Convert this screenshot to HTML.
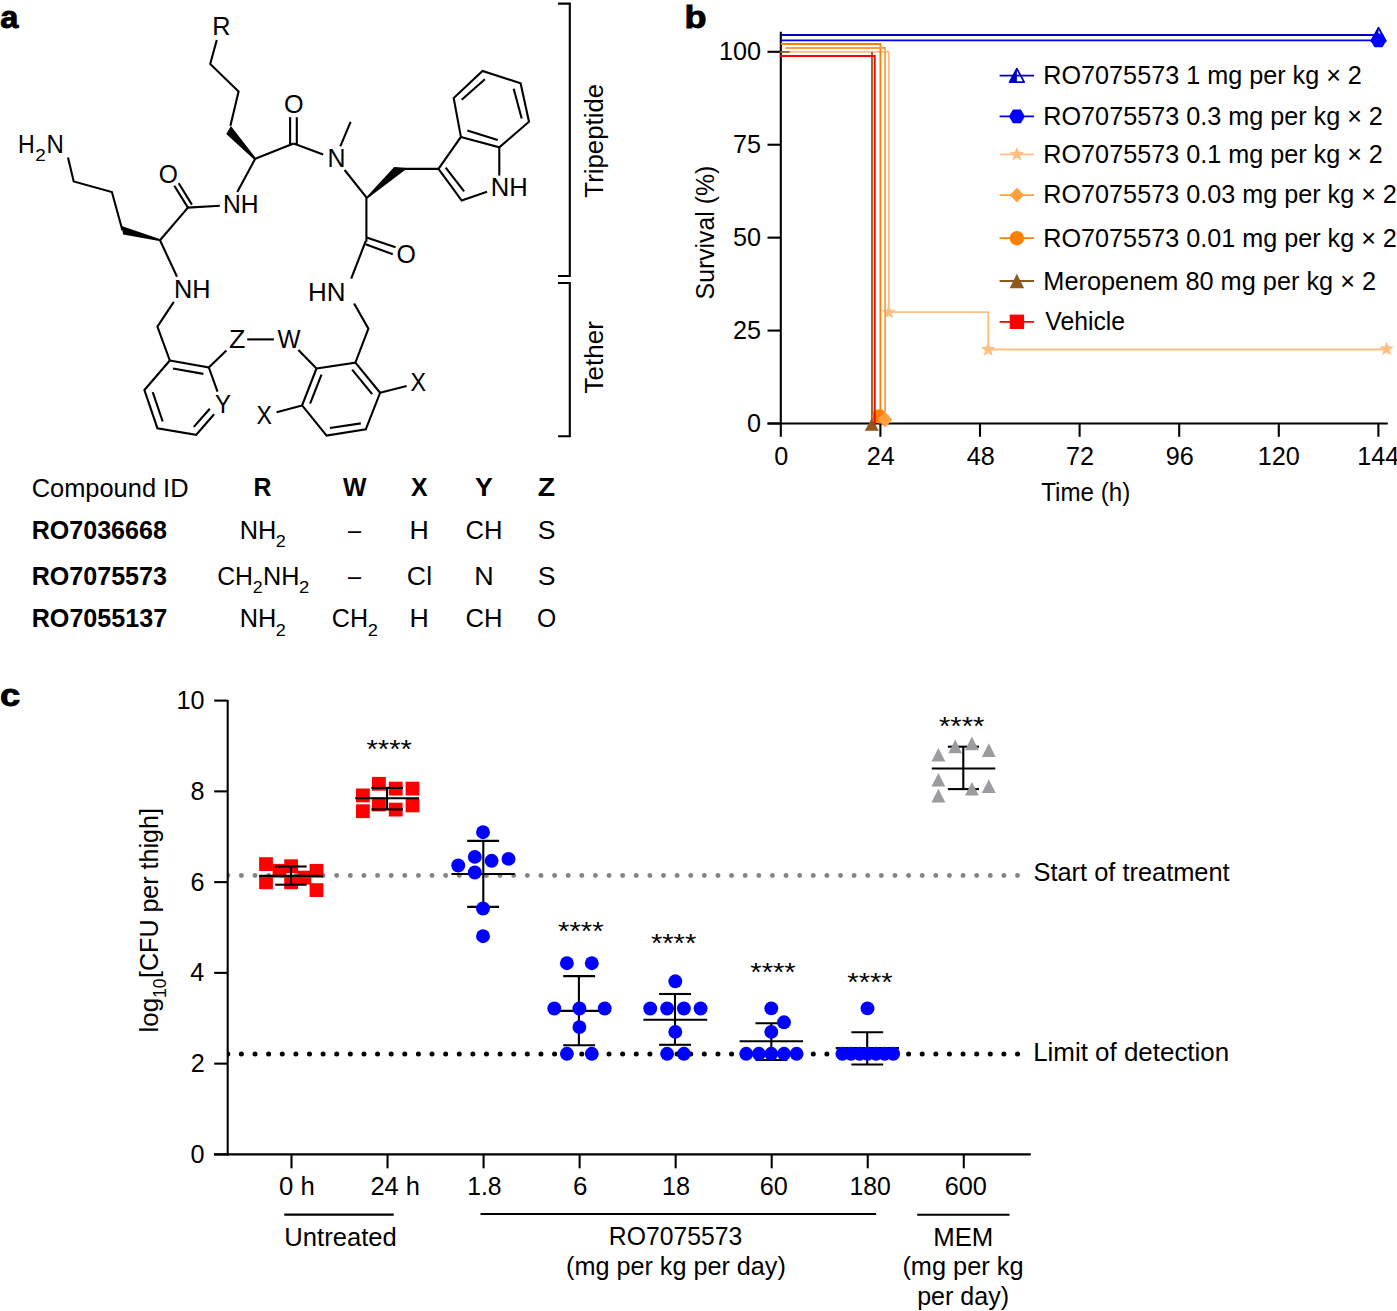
<!DOCTYPE html>
<html><head><meta charset="utf-8"><style>
html,body{margin:0;padding:0;background:#fff;}
svg{display:block;}
text{font-family:"Liberation Sans",sans-serif;}
</style></head><body>
<svg width="1397" height="1311" viewBox="0 0 1397 1311">
<rect width="1397" height="1311" fill="#fff"/>
<text transform="translate(0.32 27.6) scale(1.0344 1)" font-size="31.5" font-weight="bold" fill="#000" stroke="#000" stroke-width="0.9">a</text>
<text transform="translate(684.51 27.8) scale(1.1478 1)" font-size="31.4" font-weight="bold" fill="#000" stroke="#000" stroke-width="0.9">b</text>
<text transform="translate(-0.1 706) scale(1.1346 1)" font-size="32" font-weight="bold" fill="#000" stroke="#000" stroke-width="0.9">c</text>
<text transform="translate(212.21 35) scale(1.0046 1)" font-size="25.2" fill="#000">R</text>
<polyline points="216.8,40 210.2,64 238.6,91.6 230.4,125.8" fill="none" stroke="#000" stroke-width="2.1" stroke-linejoin="miter"/>
<polygon points="226.3,133.9 230.9,125.9 255.9,158.2 254.6,160" fill="#000"/>
<line x1="255.2" y1="158.7" x2="293.6" y2="143.6" stroke="#000" stroke-width="2.1" stroke-linecap="butt"/>
<line x1="290.1" y1="117.2" x2="290.1" y2="144.6" stroke="#000" stroke-width="2.1" stroke-linecap="butt"/>
<line x1="296.8" y1="117.2" x2="296.8" y2="144.6" stroke="#000" stroke-width="2.1" stroke-linecap="butt"/>
<text x="284" y="112.6" font-size="25.2" fill="#000">O</text>
<line x1="293.6" y1="143.6" x2="323.2" y2="154.4" stroke="#000" stroke-width="2.1" stroke-linecap="butt"/>
<text transform="translate(327.54 166.9) scale(0.9894 1)" font-size="25.2" fill="#000">N</text>
<line x1="340.3" y1="146.3" x2="350.6" y2="121.9" stroke="#000" stroke-width="2.1" stroke-linecap="butt"/>
<line x1="344.6" y1="170" x2="366.4" y2="197.4" stroke="#000" stroke-width="2.1" stroke-linecap="butt"/>
<line x1="255.2" y1="158.7" x2="237.3" y2="192.1" stroke="#000" stroke-width="2.1" stroke-linecap="butt"/>
<text transform="translate(223.07 213.1) scale(0.9766 1)" font-size="25.2" fill="#000">NH</text>
<line x1="219.8" y1="205.7" x2="187.9" y2="207.6" stroke="#000" stroke-width="2.1" stroke-linecap="butt"/>
<line x1="187.9" y1="207.6" x2="174.3" y2="185.8" stroke="#000" stroke-width="2.1" stroke-linecap="butt"/>
<line x1="191.9" y1="204.6" x2="178.7" y2="183.2" stroke="#000" stroke-width="2.1" stroke-linecap="butt"/>
<text transform="translate(158.83 182.7) scale(0.9768 1)" font-size="25.2" fill="#000">O</text>
<line x1="187.9" y1="207.6" x2="160" y2="240.2" stroke="#000" stroke-width="2.1" stroke-linecap="butt"/>
<polygon points="160.6,241.3 159.6,239 121.7,225.9 123.1,234.5" fill="#000"/>
<polyline points="122.4,230.2 111.9,192 73.7,181.5 68,157.6" fill="none" stroke="#000" stroke-width="2.1" stroke-linejoin="miter"/>
<text transform="translate(18.09 152.9) scale(0.9182 1)" font-size="25.2" fill="#000">H</text>
<text transform="translate(35.25 161.3) scale(1.1251 1)" font-size="16.8" fill="#000">2</text>
<text transform="translate(46.42 152.9) scale(0.9538 1)" font-size="25.2" fill="#000">N</text>
<line x1="160" y1="240.2" x2="177" y2="276.7" stroke="#000" stroke-width="2.1" stroke-linecap="butt"/>
<text transform="translate(174.01 297.8) scale(1.0045 1)" font-size="25.2" fill="#000">NH</text>
<polyline points="173.8,301.8 157.4,326.7 169.8,360.5" fill="none" stroke="#000" stroke-width="2.1" stroke-linejoin="miter"/>
<polyline points="169.8,360.5 208.8,367.5 217.5,391.7" fill="none" stroke="#000" stroke-width="2.1" stroke-linejoin="miter"/>
<polyline points="169.8,360.5 144.4,390.1 157.4,428.2 196.1,434.9 214.1,414.2" fill="none" stroke="#000" stroke-width="2.1" stroke-linejoin="miter"/>
<line x1="173" y1="368.5" x2="203.4" y2="373.9" stroke="#000" stroke-width="2.1" stroke-linecap="butt"/>
<line x1="152.7" y1="392.1" x2="162.7" y2="421.5" stroke="#000" stroke-width="2.1" stroke-linecap="butt"/>
<line x1="193.8" y1="426.9" x2="209.8" y2="408.8" stroke="#000" stroke-width="2.1" stroke-linecap="butt"/>
<text transform="translate(214.96 412.6) scale(0.9498 1)" font-size="25.2" fill="#000">Y</text>
<line x1="208.8" y1="367.5" x2="226.4" y2="350.4" stroke="#000" stroke-width="2.1" stroke-linecap="butt"/>
<text transform="translate(229.03 347.7) scale(1.0654 1)" font-size="25.2" fill="#000">Z</text>
<line x1="247.2" y1="339.4" x2="273.9" y2="339.4" stroke="#000" stroke-width="2.1" stroke-linecap="butt"/>
<text transform="translate(277.38 348.1) scale(0.9677 1)" font-size="25.2" fill="#000">W</text>
<line x1="298.4" y1="350" x2="316.5" y2="368.5" stroke="#000" stroke-width="2.1" stroke-linecap="butt"/>
<polyline points="316.5,368.5 355.4,362.6 380.1,392.8 365.8,429.4 326.6,435.6 302.1,405.4 316.5,368.5" fill="none" stroke="#000" stroke-width="2.1" stroke-linejoin="miter"/>
<line x1="321.5" y1="374.7" x2="310.1" y2="403.7" stroke="#000" stroke-width="2.1" stroke-linecap="butt"/>
<line x1="352.1" y1="369.7" x2="372.2" y2="394.2" stroke="#000" stroke-width="2.1" stroke-linecap="butt"/>
<line x1="329.9" y1="428" x2="360.8" y2="423.4" stroke="#000" stroke-width="2.1" stroke-linecap="butt"/>
<line x1="302.1" y1="405.4" x2="276.6" y2="412.2" stroke="#000" stroke-width="2.1" stroke-linecap="butt"/>
<text transform="translate(256.38 423.5) scale(0.9180 1)" font-size="25.2" fill="#000">X</text>
<line x1="380.1" y1="392.8" x2="406.6" y2="386.1" stroke="#000" stroke-width="2.1" stroke-linecap="butt"/>
<text transform="translate(410.58 391.1) scale(0.9243 1)" font-size="25.2" fill="#000">X</text>
<polyline points="355.4,362.6 368.4,328.7 354.1,303.5" fill="none" stroke="#000" stroke-width="2.1" stroke-linejoin="miter"/>
<text transform="translate(307.95 300.9) scale(1.0324 1)" font-size="25.2" fill="#000">HN</text>
<line x1="351.2" y1="278.7" x2="365.8" y2="240.9" stroke="#000" stroke-width="2.1" stroke-linecap="butt"/>
<line x1="366.6" y1="237.5" x2="395.6" y2="247.2" stroke="#000" stroke-width="2.1" stroke-linecap="butt"/>
<line x1="365.6" y1="244.3" x2="392.8" y2="254.2" stroke="#000" stroke-width="2.1" stroke-linecap="butt"/>
<text transform="translate(396.62 262.6) scale(0.9884 1)" font-size="25.2" fill="#000">O</text>
<line x1="366.4" y1="197.4" x2="366.4" y2="241.5" stroke="#000" stroke-width="2.1" stroke-linecap="butt"/>
<polygon points="365.6,198 394.2,166.9 405,167.8 405,170 367.4,198.4" fill="#000"/>
<line x1="404" y1="168.9" x2="438.5" y2="168.9" stroke="#000" stroke-width="2.1" stroke-linecap="butt"/>
<polyline points="438.5,168.9 460.9,136.9 453.7,98.1 482.5,70.9 520.6,83.2 529,121.7 499.3,147.3 460.9,136.9" fill="none" stroke="#000" stroke-width="2.1" stroke-linejoin="miter"/>
<polyline points="438.5,168.9 461.7,200.6 487,191.7" fill="none" stroke="#000" stroke-width="2.1" stroke-linejoin="miter"/>
<line x1="445.7" y1="167.6" x2="464.1" y2="191.3" stroke="#000" stroke-width="2.1" stroke-linecap="butt"/>
<line x1="497.7" y1="140.1" x2="467.3" y2="130.5" stroke="#000" stroke-width="2.1" stroke-linecap="butt"/>
<line x1="461.7" y1="99.7" x2="484.9" y2="79.2" stroke="#000" stroke-width="2.1" stroke-linecap="butt"/>
<line x1="513.7" y1="88.8" x2="521.7" y2="118.5" stroke="#000" stroke-width="2.1" stroke-linecap="butt"/>
<line x1="499.3" y1="147.3" x2="499.3" y2="175.6" stroke="#000" stroke-width="2.1" stroke-linecap="butt"/>
<text transform="translate(490.79 196.2) scale(1.0169 1)" font-size="25.2" fill="#000">NH</text>
<polyline points="558,3.6 569.8,3.6 569.8,276 558,276" fill="none" stroke="#000" stroke-width="2.1" stroke-linejoin="miter"/>
<polyline points="558,283 569.8,283 569.8,436.2 558,436.2" fill="none" stroke="#000" stroke-width="2.1" stroke-linejoin="miter"/>
<text transform="translate(602.8 197.68) rotate(-90) scale(1.0244 1)" font-size="25.2">Tripeptide</text>
<text transform="translate(603.2 393.39) rotate(-90) scale(1.0331 1)" font-size="25.2">Tether</text>
<text transform="translate(31.63 497) scale(1.0096 1)" font-size="25.2" fill="#000">Compound ID</text>
<text transform="translate(253.42 495.9) scale(0.9850 1)" font-size="25.2" font-weight="bold" fill="#000">R</text>
<text transform="translate(343.04 495.9) scale(0.9878 1)" font-size="25.2" font-weight="bold" fill="#000">W</text>
<text transform="translate(410.95 495.9) scale(0.9867 1)" font-size="25.2" font-weight="bold" fill="#000">X</text>
<text transform="translate(474.93 495.9) scale(1.0666 1)" font-size="25.2" font-weight="bold" fill="#000">Y</text>
<text transform="translate(537.65 495.9) scale(1.1276 1)" font-size="25.2" font-weight="bold" fill="#000">Z</text>
<text transform="translate(31.71 539.1) scale(0.9945 1)" font-size="25.2" font-weight="bold" fill="#000">RO7036668</text>
<text transform="translate(31.71 584.8) scale(0.9954 1)" font-size="25.2" font-weight="bold" fill="#000">RO7075573</text>
<text transform="translate(31.7 627) scale(0.9969 1)" font-size="25.2" font-weight="bold" fill="#000">RO7055137</text>
<text transform="translate(239.81 539.1) scale(1.0045 1)" font-size="25.2" fill="#000">NH</text>
<text transform="translate(275.8 547.3) scale(1.0727 1)" font-size="16.8" fill="#000">2</text>
<text transform="translate(348.1 539.1) scale(0.9295 1)" font-size="25.2" fill="#000">–</text>
<text transform="translate(409.6 539.1) scale(1.0606 1)" font-size="25.2" fill="#000">H</text>
<text transform="translate(465.52 539.1) scale(1.0159 1)" font-size="25.2" fill="#000">CH</text>
<text transform="translate(537.7 539.1) scale(1.0559 1)" font-size="25.2" fill="#000">S</text>
<text transform="translate(217.16 584.8) scale(0.9826 1)" font-size="25.2" fill="#000">CH</text>
<text transform="translate(252.81 593) scale(1.0597 1)" font-size="16.8" fill="#000">2</text>
<text x="263.02" y="584.8" font-size="25.2" fill="#000">NH</text>
<text transform="translate(298.88 593) scale(1.0989 1)" font-size="16.8" fill="#000">2</text>
<text transform="translate(348.1 584.8) scale(0.9295 1)" font-size="25.2" fill="#000">–</text>
<text transform="translate(406.86 584.8) scale(1.0598 1)" font-size="25.2" fill="#000">Cl</text>
<text transform="translate(474.18 584.8) scale(1.0677 1)" font-size="25.2" fill="#000">N</text>
<text transform="translate(537.7 584.8) scale(1.0559 1)" font-size="25.2" fill="#000">S</text>
<text transform="translate(239.81 627.3) scale(1.0045 1)" font-size="25.2" fill="#000">NH</text>
<text transform="translate(275.8 635.5) scale(1.0727 1)" font-size="16.8" fill="#000">2</text>
<text transform="translate(331.85 627.3) scale(0.9947 1)" font-size="25.2" fill="#000">CH</text>
<text transform="translate(367.69 635.5) scale(1.0858 1)" font-size="16.8" fill="#000">2</text>
<text transform="translate(409.6 627.3) scale(1.0606 1)" font-size="25.2" fill="#000">H</text>
<text transform="translate(465.52 627.3) scale(1.0159 1)" font-size="25.2" fill="#000">CH</text>
<text transform="translate(536.92 627.3) scale(0.9826 1)" font-size="25.2" fill="#000">O</text>
<line x1="780.8" y1="31.8" x2="780.8" y2="424.5" stroke="#000" stroke-width="2.1" stroke-linecap="butt"/>
<line x1="767.6" y1="423.5" x2="1387.8" y2="423.5" stroke="#000" stroke-width="2.1" stroke-linecap="butt"/>
<line x1="767.5" y1="51.8" x2="780.8" y2="51.8" stroke="#000" stroke-width="2.1" stroke-linecap="butt"/>
<text x="718.92" y="60.4" font-size="25.2" fill="#000">100</text>
<line x1="767.5" y1="144.73" x2="780.8" y2="144.73" stroke="#000" stroke-width="2.1" stroke-linecap="butt"/>
<text x="733.04" y="153.33" font-size="25.2" fill="#000">75</text>
<line x1="767.5" y1="237.65" x2="780.8" y2="237.65" stroke="#000" stroke-width="2.1" stroke-linecap="butt"/>
<text x="732.97" y="246.25" font-size="25.2" fill="#000">50</text>
<line x1="767.5" y1="330.57" x2="780.8" y2="330.57" stroke="#000" stroke-width="2.1" stroke-linecap="butt"/>
<text x="733.04" y="339.18" font-size="25.2" fill="#000">25</text>
<line x1="767.5" y1="423.5" x2="780.8" y2="423.5" stroke="#000" stroke-width="2.1" stroke-linecap="butt"/>
<text x="746.96" y="432.1" font-size="25.2" fill="#000">0</text>
<line x1="780.8" y1="423.5" x2="780.8" y2="436.8" stroke="#000" stroke-width="2.1" stroke-linecap="butt"/>
<text x="774.28" y="465" font-size="25.2" fill="#000">0</text>
<line x1="880.4" y1="423.5" x2="880.4" y2="436.8" stroke="#000" stroke-width="2.1" stroke-linecap="butt"/>
<text x="866.63" y="465" font-size="25.2" fill="#000">24</text>
<line x1="980" y1="423.5" x2="980" y2="436.8" stroke="#000" stroke-width="2.1" stroke-linecap="butt"/>
<text x="966.77" y="465" font-size="25.2" fill="#000">48</text>
<line x1="1079.6" y1="423.5" x2="1079.6" y2="436.8" stroke="#000" stroke-width="2.1" stroke-linecap="butt"/>
<text x="1066.08" y="465" font-size="25.2" fill="#000">72</text>
<line x1="1179.2" y1="423.5" x2="1179.2" y2="436.8" stroke="#000" stroke-width="2.1" stroke-linecap="butt"/>
<text x="1165.65" y="465" font-size="25.2" fill="#000">96</text>
<line x1="1278.8" y1="423.5" x2="1278.8" y2="436.8" stroke="#000" stroke-width="2.1" stroke-linecap="butt"/>
<text x="1257.82" y="465" font-size="25.2" fill="#000">120</text>
<line x1="1378.4" y1="423.5" x2="1378.4" y2="436.8" stroke="#000" stroke-width="2.1" stroke-linecap="butt"/>
<text x="1357.29" y="465" font-size="25.2" fill="#000">144</text>
<text transform="translate(1041.26 500.9) scale(0.9590 1)" font-size="25.2" fill="#000">Time (h)</text>
<text transform="translate(713.7 299.42) rotate(-90) scale(0.9856 1)" font-size="25.2">Survival (%)</text>
<line x1="780.8" y1="35" x2="1378.5" y2="35" stroke="#0000C0" stroke-width="1.8" stroke-linecap="butt"/>
<polygon points="1378.5,27.75 1385.75,41.25 1371.25,41.25" fill="none" stroke="#0000C0" stroke-width="1.8" stroke-linejoin="round"/>
<polygon points="1378.5,27.75 1378.5,41.25 1371.25,41.25" fill="#0000C0"/>
<line x1="780.8" y1="40.3" x2="1378.5" y2="40.3" stroke="#0000FF" stroke-width="1.8" stroke-linecap="butt"/>
<polygon points="1386.5,40.4 1382.5,47.33 1374.5,47.33 1370.5,40.4 1374.5,33.47 1382.5,33.47" fill="#0000FF"/>
<polyline points="789,51.9 888.8,51.9 888.8,312.1 988.2,312.1 988.2,349.5 1386.4,349.5" fill="none" stroke="#FFBF80" stroke-width="1.8" stroke-linejoin="miter"/>
<polygon points="888.7,304.9 890.68,309.67 895.83,310.08 891.91,313.44 893.11,318.47 888.7,315.77 884.29,318.47 885.49,313.44 881.57,310.08 886.72,309.67" fill="#FFBF80"/>
<polygon points="988.2,342.1 990.18,346.87 995.33,347.28 991.41,350.64 992.61,355.67 988.2,352.98 983.79,355.67 984.99,350.64 981.07,347.28 986.22,346.87" fill="#FFBF80"/>
<polygon points="1386.6,341.5 1388.58,346.27 1393.73,346.68 1389.81,350.04 1391.01,355.07 1386.6,352.38 1382.19,355.07 1383.39,350.04 1379.47,346.68 1384.62,346.27" fill="#FFBF80"/>
<polyline points="779.8,51.9 789.5,51.9" fill="none" stroke="#8C5A1E" stroke-width="1.8" stroke-linejoin="miter"/>
<polyline points="872,52 872,423.5" fill="none" stroke="#8C5A1E" stroke-width="1.8" stroke-linejoin="miter"/>
<polygon points="871.8,418 878.85,430.8 864.75,430.8" fill="#8C5A1E"/>
<polyline points="780.8,44 880.4,44 880.4,423.5" fill="none" stroke="#FF8000" stroke-width="1.8" stroke-linejoin="miter"/>
<circle cx="879.4" cy="416.4" r="7.2" fill="#FF8000"/>
<polyline points="785.5,48 885.1,48 885.1,423.5" fill="none" stroke="#FFA040" stroke-width="1.8" stroke-linejoin="miter"/>
<polygon points="885.1,411.8 892.4,419.7 885.1,427.6 877.8,419.7" fill="#FFA040"/>
<polyline points="779.8,56.1 874.7,56.1 874.7,424.7" fill="none" stroke="#FF0000" stroke-width="2.0" stroke-linejoin="miter"/>
<line x1="999.6" y1="75.7" x2="1034.1" y2="75.7" stroke="#0000C0" stroke-width="1.8" stroke-linecap="butt"/>
<polygon points="1016.9,68.65 1024.15,82.15 1009.65,82.15" fill="none" stroke="#0000C0" stroke-width="1.8" stroke-linejoin="round"/>
<polygon points="1016.9,68.65 1016.9,82.15 1009.65,82.15" fill="#0000C0"/>
<text x="1043.32" y="83.5" font-size="25.2" fill="#000">RO7075573 1 mg per kg × 2</text>
<line x1="999.6" y1="116.4" x2="1034.1" y2="116.4" stroke="#0000FF" stroke-width="1.8" stroke-linecap="butt"/>
<polygon points="1024.9,116.4 1020.9,123.33 1012.9,123.33 1008.9,116.4 1012.9,109.47 1020.9,109.47" fill="#0000FF"/>
<text x="1043.33" y="124.5" font-size="25.2" fill="#000">RO7075573 0.3 mg per kg × 2</text>
<line x1="999.6" y1="154.4" x2="1034.1" y2="154.4" stroke="#FFBF80" stroke-width="1.8" stroke-linecap="butt"/>
<polygon points="1016.9,146.9 1018.88,151.67 1024.03,152.08 1020.11,155.44 1021.31,160.47 1016.9,157.78 1012.49,160.47 1013.69,155.44 1009.77,152.08 1014.92,151.67" fill="#FFBF80"/>
<text x="1043.33" y="162.7" font-size="25.2" fill="#000">RO7075573 0.1 mg per kg × 2</text>
<line x1="999.6" y1="195.1" x2="1034.1" y2="195.1" stroke="#FFA040" stroke-width="1.8" stroke-linecap="butt"/>
<polygon points="1016.9,187.8 1024.2,195.1 1016.9,202.4 1009.6,195.1" fill="#FFA040"/>
<text x="1043.32" y="203" font-size="25.2" fill="#000">RO7075573 0.03 mg per kg × 2</text>
<line x1="999.6" y1="238.2" x2="1034.1" y2="238.2" stroke="#FF8000" stroke-width="1.8" stroke-linecap="butt"/>
<circle cx="1016.9" cy="238.2" r="7.2" fill="#FF8000"/>
<text x="1043.32" y="246.5" font-size="25.2" fill="#000">RO7075573 0.01 mg per kg × 2</text>
<line x1="999.6" y1="281" x2="1034.1" y2="281" stroke="#8C5A1E" stroke-width="1.8" stroke-linecap="butt"/>
<polygon points="1016.9,273.75 1024.15,288.25 1009.65,288.25" fill="#8C5A1E"/>
<text transform="translate(1043.31 289.6) scale(1.0051 1)" font-size="25.2" fill="#000">Meropenem 80 mg per kg × 2</text>
<line x1="999.6" y1="321.8" x2="1034.1" y2="321.8" stroke="#FF0000" stroke-width="1.8" stroke-linecap="butt"/>
<rect x="1009.7" y="314.6" width="14.4" height="14.4" fill="#FF0000"/>
<text transform="translate(1045.28 330.4) scale(0.9824 1)" font-size="25.2" fill="#000">Vehicle</text>
<circle cx="241.4" cy="875.5" r="2.45" fill="#848484"/>
<circle cx="255.02" cy="875.5" r="2.45" fill="#848484"/>
<circle cx="268.63" cy="875.5" r="2.45" fill="#848484"/>
<circle cx="282.25" cy="875.5" r="2.45" fill="#848484"/>
<circle cx="295.86" cy="875.5" r="2.45" fill="#848484"/>
<circle cx="309.48" cy="875.5" r="2.45" fill="#848484"/>
<circle cx="323.1" cy="875.5" r="2.45" fill="#848484"/>
<circle cx="336.71" cy="875.5" r="2.45" fill="#848484"/>
<circle cx="350.33" cy="875.5" r="2.45" fill="#848484"/>
<circle cx="363.94" cy="875.5" r="2.45" fill="#848484"/>
<circle cx="377.56" cy="875.5" r="2.45" fill="#848484"/>
<circle cx="391.18" cy="875.5" r="2.45" fill="#848484"/>
<circle cx="404.79" cy="875.5" r="2.45" fill="#848484"/>
<circle cx="418.41" cy="875.5" r="2.45" fill="#848484"/>
<circle cx="432.02" cy="875.5" r="2.45" fill="#848484"/>
<circle cx="445.64" cy="875.5" r="2.45" fill="#848484"/>
<circle cx="459.26" cy="875.5" r="2.45" fill="#848484"/>
<circle cx="472.87" cy="875.5" r="2.45" fill="#848484"/>
<circle cx="486.49" cy="875.5" r="2.45" fill="#848484"/>
<circle cx="500.1" cy="875.5" r="2.45" fill="#848484"/>
<circle cx="513.72" cy="875.5" r="2.45" fill="#848484"/>
<circle cx="527.34" cy="875.5" r="2.45" fill="#848484"/>
<circle cx="540.95" cy="875.5" r="2.45" fill="#848484"/>
<circle cx="554.57" cy="875.5" r="2.45" fill="#848484"/>
<circle cx="568.18" cy="875.5" r="2.45" fill="#848484"/>
<circle cx="581.8" cy="875.5" r="2.45" fill="#848484"/>
<circle cx="595.42" cy="875.5" r="2.45" fill="#848484"/>
<circle cx="609.03" cy="875.5" r="2.45" fill="#848484"/>
<circle cx="622.65" cy="875.5" r="2.45" fill="#848484"/>
<circle cx="636.26" cy="875.5" r="2.45" fill="#848484"/>
<circle cx="649.88" cy="875.5" r="2.45" fill="#848484"/>
<circle cx="663.5" cy="875.5" r="2.45" fill="#848484"/>
<circle cx="677.11" cy="875.5" r="2.45" fill="#848484"/>
<circle cx="690.73" cy="875.5" r="2.45" fill="#848484"/>
<circle cx="704.34" cy="875.5" r="2.45" fill="#848484"/>
<circle cx="717.96" cy="875.5" r="2.45" fill="#848484"/>
<circle cx="731.58" cy="875.5" r="2.45" fill="#848484"/>
<circle cx="745.19" cy="875.5" r="2.45" fill="#848484"/>
<circle cx="758.81" cy="875.5" r="2.45" fill="#848484"/>
<circle cx="772.42" cy="875.5" r="2.45" fill="#848484"/>
<circle cx="786.04" cy="875.5" r="2.45" fill="#848484"/>
<circle cx="799.66" cy="875.5" r="2.45" fill="#848484"/>
<circle cx="813.27" cy="875.5" r="2.45" fill="#848484"/>
<circle cx="826.89" cy="875.5" r="2.45" fill="#848484"/>
<circle cx="840.5" cy="875.5" r="2.45" fill="#848484"/>
<circle cx="854.12" cy="875.5" r="2.45" fill="#848484"/>
<circle cx="867.74" cy="875.5" r="2.45" fill="#848484"/>
<circle cx="881.35" cy="875.5" r="2.45" fill="#848484"/>
<circle cx="894.97" cy="875.5" r="2.45" fill="#848484"/>
<circle cx="908.58" cy="875.5" r="2.45" fill="#848484"/>
<circle cx="922.2" cy="875.5" r="2.45" fill="#848484"/>
<circle cx="935.82" cy="875.5" r="2.45" fill="#848484"/>
<circle cx="949.43" cy="875.5" r="2.45" fill="#848484"/>
<circle cx="963.05" cy="875.5" r="2.45" fill="#848484"/>
<circle cx="976.66" cy="875.5" r="2.45" fill="#848484"/>
<circle cx="990.28" cy="875.5" r="2.45" fill="#848484"/>
<circle cx="1003.9" cy="875.5" r="2.45" fill="#848484"/>
<circle cx="1017.51" cy="875.5" r="2.45" fill="#848484"/>
<circle cx="241.4" cy="1054" r="2.5" fill="#000000"/>
<circle cx="255.02" cy="1054" r="2.5" fill="#000000"/>
<circle cx="268.63" cy="1054" r="2.5" fill="#000000"/>
<circle cx="282.25" cy="1054" r="2.5" fill="#000000"/>
<circle cx="295.86" cy="1054" r="2.5" fill="#000000"/>
<circle cx="309.48" cy="1054" r="2.5" fill="#000000"/>
<circle cx="323.1" cy="1054" r="2.5" fill="#000000"/>
<circle cx="336.71" cy="1054" r="2.5" fill="#000000"/>
<circle cx="350.33" cy="1054" r="2.5" fill="#000000"/>
<circle cx="363.94" cy="1054" r="2.5" fill="#000000"/>
<circle cx="377.56" cy="1054" r="2.5" fill="#000000"/>
<circle cx="391.18" cy="1054" r="2.5" fill="#000000"/>
<circle cx="404.79" cy="1054" r="2.5" fill="#000000"/>
<circle cx="418.41" cy="1054" r="2.5" fill="#000000"/>
<circle cx="432.02" cy="1054" r="2.5" fill="#000000"/>
<circle cx="445.64" cy="1054" r="2.5" fill="#000000"/>
<circle cx="459.26" cy="1054" r="2.5" fill="#000000"/>
<circle cx="472.87" cy="1054" r="2.5" fill="#000000"/>
<circle cx="486.49" cy="1054" r="2.5" fill="#000000"/>
<circle cx="500.1" cy="1054" r="2.5" fill="#000000"/>
<circle cx="513.72" cy="1054" r="2.5" fill="#000000"/>
<circle cx="527.34" cy="1054" r="2.5" fill="#000000"/>
<circle cx="540.95" cy="1054" r="2.5" fill="#000000"/>
<circle cx="554.57" cy="1054" r="2.5" fill="#000000"/>
<circle cx="568.18" cy="1054" r="2.5" fill="#000000"/>
<circle cx="581.8" cy="1054" r="2.5" fill="#000000"/>
<circle cx="595.42" cy="1054" r="2.5" fill="#000000"/>
<circle cx="609.03" cy="1054" r="2.5" fill="#000000"/>
<circle cx="622.65" cy="1054" r="2.5" fill="#000000"/>
<circle cx="636.26" cy="1054" r="2.5" fill="#000000"/>
<circle cx="649.88" cy="1054" r="2.5" fill="#000000"/>
<circle cx="663.5" cy="1054" r="2.5" fill="#000000"/>
<circle cx="677.11" cy="1054" r="2.5" fill="#000000"/>
<circle cx="690.73" cy="1054" r="2.5" fill="#000000"/>
<circle cx="704.34" cy="1054" r="2.5" fill="#000000"/>
<circle cx="717.96" cy="1054" r="2.5" fill="#000000"/>
<circle cx="731.58" cy="1054" r="2.5" fill="#000000"/>
<circle cx="745.19" cy="1054" r="2.5" fill="#000000"/>
<circle cx="758.81" cy="1054" r="2.5" fill="#000000"/>
<circle cx="772.42" cy="1054" r="2.5" fill="#000000"/>
<circle cx="786.04" cy="1054" r="2.5" fill="#000000"/>
<circle cx="799.66" cy="1054" r="2.5" fill="#000000"/>
<circle cx="813.27" cy="1054" r="2.5" fill="#000000"/>
<circle cx="826.89" cy="1054" r="2.5" fill="#000000"/>
<circle cx="840.5" cy="1054" r="2.5" fill="#000000"/>
<circle cx="854.12" cy="1054" r="2.5" fill="#000000"/>
<circle cx="867.74" cy="1054" r="2.5" fill="#000000"/>
<circle cx="881.35" cy="1054" r="2.5" fill="#000000"/>
<circle cx="894.97" cy="1054" r="2.5" fill="#000000"/>
<circle cx="908.58" cy="1054" r="2.5" fill="#000000"/>
<circle cx="922.2" cy="1054" r="2.5" fill="#000000"/>
<circle cx="935.82" cy="1054" r="2.5" fill="#000000"/>
<circle cx="949.43" cy="1054" r="2.5" fill="#000000"/>
<circle cx="963.05" cy="1054" r="2.5" fill="#000000"/>
<circle cx="976.66" cy="1054" r="2.5" fill="#000000"/>
<circle cx="990.28" cy="1054" r="2.5" fill="#000000"/>
<circle cx="1003.9" cy="1054" r="2.5" fill="#000000"/>
<circle cx="1017.51" cy="1054" r="2.5" fill="#000000"/>
<path d="M227.8,873.05 A2.45,2.45 0 0 1 227.8,877.95 Z" fill="#848484"/>
<path d="M227.8,1051.5 A2.5,2.5 0 0 1 227.8,1056.5 Z" fill="#000"/>
<rect x="259.1" y="857.2" width="13.8" height="13.8" fill="#FF0000"/>
<rect x="259.1" y="875.4" width="13.8" height="13.8" fill="#FF0000"/>
<rect x="272.6" y="863.9" width="13.8" height="13.8" fill="#FF0000"/>
<rect x="284.2" y="859.3" width="13.8" height="13.8" fill="#FF0000"/>
<rect x="284.2" y="875.4" width="13.8" height="13.8" fill="#FF0000"/>
<rect x="297.5" y="870.7" width="13.8" height="13.8" fill="#FF0000"/>
<rect x="309.6" y="863.9" width="13.8" height="13.8" fill="#FF0000"/>
<rect x="309.6" y="883.2" width="13.8" height="13.8" fill="#FF0000"/>
<line x1="259.2" y1="875.9" x2="323" y2="875.9" stroke="#000" stroke-width="2.1" stroke-linecap="butt"/>
<line x1="291" y1="866.5" x2="291" y2="884.7" stroke="#000" stroke-width="2.1" stroke-linecap="butt"/>
<line x1="275.2" y1="866.5" x2="306.7" y2="866.5" stroke="#000" stroke-width="2.1" stroke-linecap="butt"/>
<line x1="275.2" y1="884.7" x2="306.7" y2="884.7" stroke="#000" stroke-width="2.1" stroke-linecap="butt"/>
<rect x="356" y="788.5" width="13.8" height="13.8" fill="#FF0000"/>
<rect x="356" y="804.3" width="13.8" height="13.8" fill="#FF0000"/>
<rect x="372" y="776.9" width="13.8" height="13.8" fill="#FF0000"/>
<rect x="372" y="797.6" width="13.8" height="13.8" fill="#FF0000"/>
<rect x="388.8" y="781.7" width="13.8" height="13.8" fill="#FF0000"/>
<rect x="388.8" y="802.7" width="13.8" height="13.8" fill="#FF0000"/>
<rect x="405.6" y="781.7" width="13.8" height="13.8" fill="#FF0000"/>
<rect x="405.6" y="798.5" width="13.8" height="13.8" fill="#FF0000"/>
<line x1="355.2" y1="798.2" x2="419" y2="798.2" stroke="#000" stroke-width="2.1" stroke-linecap="butt"/>
<line x1="387" y1="787.9" x2="387" y2="809.4" stroke="#000" stroke-width="2.1" stroke-linecap="butt"/>
<line x1="371.4" y1="787.9" x2="402.9" y2="787.9" stroke="#000" stroke-width="2.1" stroke-linecap="butt"/>
<line x1="371.4" y1="809.4" x2="402.9" y2="809.4" stroke="#000" stroke-width="2.1" stroke-linecap="butt"/>
<line x1="451.5" y1="874" x2="514.8" y2="874" stroke="#000" stroke-width="2.1" stroke-linecap="butt"/>
<line x1="483.3" y1="840.9" x2="483.3" y2="906.9" stroke="#000" stroke-width="2.1" stroke-linecap="butt"/>
<line x1="467.2" y1="840.9" x2="499.1" y2="840.9" stroke="#000" stroke-width="2.1" stroke-linecap="butt"/>
<line x1="467.2" y1="906.9" x2="499.1" y2="906.9" stroke="#000" stroke-width="2.1" stroke-linecap="butt"/>
<circle cx="483" cy="832.2" r="6.95" fill="#0000FF"/>
<circle cx="474.8" cy="856.9" r="6.95" fill="#0000FF"/>
<circle cx="458.2" cy="865.5" r="6.95" fill="#0000FF"/>
<circle cx="491.6" cy="860.8" r="6.95" fill="#0000FF"/>
<circle cx="508.5" cy="858.9" r="6.95" fill="#0000FF"/>
<circle cx="474.8" cy="872.5" r="6.95" fill="#0000FF"/>
<circle cx="483" cy="908.5" r="6.95" fill="#0000FF"/>
<circle cx="483" cy="936.2" r="6.95" fill="#0000FF"/>
<line x1="551" y1="1010.9" x2="611" y2="1010.9" stroke="#000" stroke-width="2.1" stroke-linecap="butt"/>
<line x1="578.9" y1="976.1" x2="578.9" y2="1045.2" stroke="#000" stroke-width="2.1" stroke-linecap="butt"/>
<line x1="563.2" y1="976.1" x2="595.1" y2="976.1" stroke="#000" stroke-width="2.1" stroke-linecap="butt"/>
<line x1="563.2" y1="1045.2" x2="595.1" y2="1045.2" stroke="#000" stroke-width="2.1" stroke-linecap="butt"/>
<circle cx="566.9" cy="963.2" r="6.95" fill="#0000FF"/>
<circle cx="591.8" cy="963.2" r="6.95" fill="#0000FF"/>
<circle cx="554.3" cy="1008.5" r="6.95" fill="#0000FF"/>
<circle cx="579.4" cy="1008.5" r="6.95" fill="#0000FF"/>
<circle cx="604.7" cy="1008.5" r="6.95" fill="#0000FF"/>
<circle cx="579.4" cy="1027.1" r="6.95" fill="#0000FF"/>
<circle cx="566.9" cy="1053.8" r="6.95" fill="#0000FF"/>
<circle cx="591.8" cy="1053.8" r="6.95" fill="#0000FF"/>
<line x1="643.4" y1="1019.8" x2="707.2" y2="1019.8" stroke="#000" stroke-width="2.1" stroke-linecap="butt"/>
<line x1="675" y1="994" x2="675" y2="1044.8" stroke="#000" stroke-width="2.1" stroke-linecap="butt"/>
<line x1="659.1" y1="994" x2="691" y2="994" stroke="#000" stroke-width="2.1" stroke-linecap="butt"/>
<line x1="659.1" y1="1044.8" x2="691" y2="1044.8" stroke="#000" stroke-width="2.1" stroke-linecap="butt"/>
<circle cx="675.3" cy="981.3" r="6.95" fill="#0000FF"/>
<circle cx="650.2" cy="1008.5" r="6.95" fill="#0000FF"/>
<circle cx="667.1" cy="1008.5" r="6.95" fill="#0000FF"/>
<circle cx="683.9" cy="1008.5" r="6.95" fill="#0000FF"/>
<circle cx="700.6" cy="1008.5" r="6.95" fill="#0000FF"/>
<circle cx="675.3" cy="1031.9" r="6.95" fill="#0000FF"/>
<circle cx="667.1" cy="1053.8" r="6.95" fill="#0000FF"/>
<circle cx="683.9" cy="1053.8" r="6.95" fill="#0000FF"/>
<line x1="739.6" y1="1041.2" x2="803" y2="1041.2" stroke="#000" stroke-width="2.1" stroke-linecap="butt"/>
<line x1="771.3" y1="1023.3" x2="771.3" y2="1060" stroke="#000" stroke-width="2.1" stroke-linecap="butt"/>
<line x1="755.5" y1="1023.3" x2="787.4" y2="1023.3" stroke="#000" stroke-width="2.1" stroke-linecap="butt"/>
<line x1="755.5" y1="1060" x2="787.4" y2="1060" stroke="#000" stroke-width="2.1" stroke-linecap="butt"/>
<circle cx="771.3" cy="1008.4" r="6.95" fill="#0000FF"/>
<circle cx="784" cy="1022.3" r="6.95" fill="#0000FF"/>
<circle cx="771.3" cy="1031.9" r="6.95" fill="#0000FF"/>
<circle cx="746.2" cy="1053.8" r="6.95" fill="#0000FF"/>
<circle cx="758.9" cy="1053.8" r="6.95" fill="#0000FF"/>
<circle cx="771.3" cy="1053.8" r="6.95" fill="#0000FF"/>
<circle cx="784" cy="1053.8" r="6.95" fill="#0000FF"/>
<circle cx="796.6" cy="1053.8" r="6.95" fill="#0000FF"/>
<line x1="835.7" y1="1048.1" x2="899" y2="1048.1" stroke="#000" stroke-width="2.1" stroke-linecap="butt"/>
<line x1="867.2" y1="1032.3" x2="867.2" y2="1064.5" stroke="#000" stroke-width="2.1" stroke-linecap="butt"/>
<line x1="851.4" y1="1032.3" x2="883.2" y2="1032.3" stroke="#000" stroke-width="2.1" stroke-linecap="butt"/>
<line x1="851.4" y1="1064.5" x2="883.2" y2="1064.5" stroke="#000" stroke-width="2.1" stroke-linecap="butt"/>
<circle cx="867.5" cy="1008.4" r="6.95" fill="#0000FF"/>
<circle cx="842.4" cy="1053.8" r="6.95" fill="#0000FF"/>
<circle cx="851" cy="1053.8" r="6.95" fill="#0000FF"/>
<circle cx="859.6" cy="1053.8" r="6.95" fill="#0000FF"/>
<circle cx="867.5" cy="1053.8" r="6.95" fill="#0000FF"/>
<circle cx="876" cy="1053.8" r="6.95" fill="#0000FF"/>
<circle cx="884.6" cy="1053.8" r="6.95" fill="#0000FF"/>
<circle cx="893.2" cy="1053.8" r="6.95" fill="#0000FF"/>
<line x1="931.8" y1="768.5" x2="995.3" y2="768.5" stroke="#000" stroke-width="2.1" stroke-linecap="butt"/>
<line x1="963.3" y1="746.7" x2="963.3" y2="789.1" stroke="#000" stroke-width="2.1" stroke-linecap="butt"/>
<line x1="947.9" y1="746.7" x2="979" y2="746.7" stroke="#000" stroke-width="2.1" stroke-linecap="butt"/>
<line x1="947.9" y1="789.1" x2="979" y2="789.1" stroke="#000" stroke-width="2.1" stroke-linecap="butt"/>
<polygon points="938.4,747.9 945.3,761.6 931.5,761.6" fill="#9B9BA0"/>
<polygon points="955.2,739.5 962.1,753.2 948.3,753.2" fill="#9B9BA0"/>
<polygon points="971.9,736.6 978.8,750.3 965,750.3" fill="#9B9BA0"/>
<polygon points="988.8,743.3 995.7,757 981.9,757" fill="#9B9BA0"/>
<polygon points="938.4,772.9 945.3,786.6 931.5,786.6" fill="#9B9BA0"/>
<polygon points="938.4,788.7 945.3,802.4 931.5,802.4" fill="#9B9BA0"/>
<polygon points="971.9,781.9 978.8,795.6 965,795.6" fill="#9B9BA0"/>
<polygon points="988.8,779.2 995.7,792.9 981.9,792.9" fill="#9B9BA0"/>
<text transform="translate(366.49 758.33) scale(1.1572 1)" font-size="25.2" fill="#000">****</text>
<text transform="translate(558.09 939.53) scale(1.1572 1)" font-size="25.2" fill="#000">****</text>
<text transform="translate(650.89 952.33) scale(1.1572 1)" font-size="25.2" fill="#000">****</text>
<text transform="translate(750.29 980.93) scale(1.1572 1)" font-size="25.2" fill="#000">****</text>
<text transform="translate(847.29 990.93) scale(1.1572 1)" font-size="25.2" fill="#000">****</text>
<text transform="translate(938.99 735.03) scale(1.1572 1)" font-size="25.2" fill="#000">****</text>
<line x1="227.7" y1="700" x2="227.7" y2="1155.4" stroke="#000" stroke-width="2.1" stroke-linecap="butt"/>
<line x1="214" y1="1154.4" x2="1030.8" y2="1154.4" stroke="#000" stroke-width="2.1" stroke-linecap="butt"/>
<line x1="214.2" y1="700.6" x2="227.7" y2="700.6" stroke="#000" stroke-width="2.1" stroke-linecap="butt"/>
<text x="176.47" y="709.2" font-size="25.2" fill="#000">10</text>
<line x1="214.2" y1="791.36" x2="227.7" y2="791.36" stroke="#000" stroke-width="2.1" stroke-linecap="butt"/>
<text x="190.59" y="799.96" font-size="25.2" fill="#000">8</text>
<line x1="214.2" y1="882.12" x2="227.7" y2="882.12" stroke="#000" stroke-width="2.1" stroke-linecap="butt"/>
<text x="190.59" y="890.72" font-size="25.2" fill="#000">6</text>
<line x1="214.2" y1="972.88" x2="227.7" y2="972.88" stroke="#000" stroke-width="2.1" stroke-linecap="butt"/>
<text x="190.21" y="981.48" font-size="25.2" fill="#000">4</text>
<line x1="214.2" y1="1063.64" x2="227.7" y2="1063.64" stroke="#000" stroke-width="2.1" stroke-linecap="butt"/>
<text x="190.77" y="1072.24" font-size="25.2" fill="#000">2</text>
<line x1="214.2" y1="1154.4" x2="227.7" y2="1154.4" stroke="#000" stroke-width="2.1" stroke-linecap="butt"/>
<text x="190.46" y="1163" font-size="25.2" fill="#000">0</text>
<line x1="291.5" y1="1154.4" x2="291.5" y2="1168.3" stroke="#000" stroke-width="2.1" stroke-linecap="butt"/>
<line x1="387.54" y1="1154.4" x2="387.54" y2="1168.3" stroke="#000" stroke-width="2.1" stroke-linecap="butt"/>
<line x1="483.58" y1="1154.4" x2="483.58" y2="1168.3" stroke="#000" stroke-width="2.1" stroke-linecap="butt"/>
<line x1="579.62" y1="1154.4" x2="579.62" y2="1168.3" stroke="#000" stroke-width="2.1" stroke-linecap="butt"/>
<line x1="675.66" y1="1154.4" x2="675.66" y2="1168.3" stroke="#000" stroke-width="2.1" stroke-linecap="butt"/>
<line x1="771.7" y1="1154.4" x2="771.7" y2="1168.3" stroke="#000" stroke-width="2.1" stroke-linecap="butt"/>
<line x1="867.74" y1="1154.4" x2="867.74" y2="1168.3" stroke="#000" stroke-width="2.1" stroke-linecap="butt"/>
<line x1="963.78" y1="1154.4" x2="963.78" y2="1168.3" stroke="#000" stroke-width="2.1" stroke-linecap="butt"/>
<text transform="translate(278.97 1194.9) scale(1.0191 1)" font-size="25.2" fill="#000">0 h</text>
<text transform="translate(370.43 1194.9) scale(1.0105 1)" font-size="25.2" fill="#000">24 h</text>
<text transform="translate(467.14 1194.9) scale(0.9823 1)" font-size="25.2" fill="#000">1.8</text>
<text transform="translate(573.1 1194.9) scale(1.0296 1)" font-size="25.2" fill="#000">6</text>
<text transform="translate(661.9 1194.9) scale(1.0036 1)" font-size="25.2" fill="#000">18</text>
<text x="759.74" y="1194.9" font-size="25.2" fill="#000">60</text>
<text transform="translate(849.54 1194.9) scale(0.9825 1)" font-size="25.2" fill="#000">180</text>
<text transform="translate(944.63 1194.9) scale(1.0046 1)" font-size="25.2" fill="#000">600</text>
<line x1="284.3" y1="1214.6" x2="393.7" y2="1214.6" stroke="#000" stroke-width="2.1" stroke-linecap="butt"/>
<line x1="480.5" y1="1214" x2="876.2" y2="1214" stroke="#000" stroke-width="2.1" stroke-linecap="butt"/>
<line x1="917.2" y1="1214.8" x2="1009.5" y2="1214.8" stroke="#000" stroke-width="2.1" stroke-linecap="butt"/>
<text transform="translate(284.32 1246) scale(1.0159 1)" font-size="25.2" fill="#000">Untreated</text>
<text transform="translate(608.86 1245.4) scale(0.9809 1)" font-size="25.2" fill="#000">RO7075573</text>
<text x="566.03" y="1275.2" font-size="25.2" fill="#000">(mg per kg per day)</text>
<text transform="translate(933.17 1245.8) scale(1.0234 1)" font-size="25.2" fill="#000">MEM</text>
<text transform="translate(902.42 1275.2) scale(1.0056 1)" font-size="25.2" fill="#000">(mg per kg</text>
<text transform="translate(917.17 1305.2) scale(0.9943 1)" font-size="25.2" fill="#000">per day)</text>
<text transform="translate(1033.46 881.3) scale(1.0080 1)" font-size="25.2" fill="#000">Start of treatment</text>
<text transform="translate(1033.16 1061) scale(1.0293 1)" font-size="25.2" fill="#000">Limit of detection</text>
<text transform="translate(157.5 1032.46) rotate(-90) scale(1.0329 1)" font-size="25.2">log</text>
<text transform="translate(165.7 998.02) rotate(-90) scale(1.0025 1)" font-size="17.5">10</text>
<text transform="translate(157.5 977.92) rotate(-90) scale(0.9942 1)" font-size="25.2">[CFU per thigh]</text>
</svg>
</body></html>
